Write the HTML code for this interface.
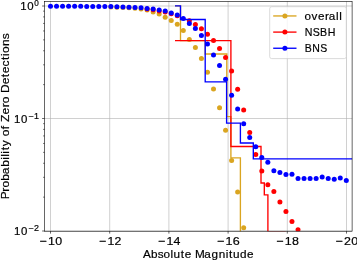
<!DOCTYPE html><html><head><meta charset="utf-8"><style>html,body{margin:0;padding:0;background:#fff;overflow:hidden;}svg{display:block;}</style></head><body><svg width="357" height="260" viewBox="0 0 357 260"><rect width="357" height="260" fill="#fff"/><defs><clipPath id="c"><rect x="44.50" y="1.40" width="307.60" height="229.80"/></clipPath></defs><g stroke="#b0b0b0" stroke-width="0.60"><line x1="50.50" y1="1.40" x2="50.50" y2="231.20"/><line x1="109.70" y1="1.40" x2="109.70" y2="231.20"/><line x1="168.90" y1="1.40" x2="168.90" y2="231.20"/><line x1="228.10" y1="1.40" x2="228.10" y2="231.20"/><line x1="287.30" y1="1.40" x2="287.30" y2="231.20"/><line x1="346.50" y1="1.40" x2="346.50" y2="231.20"/><line x1="44.50" y1="6.00" x2="352.10" y2="6.00"/><line x1="44.50" y1="118.50" x2="352.10" y2="118.50"/><line x1="44.50" y1="231.00" x2="352.10" y2="231.00"/></g><g clip-path="url(#c)"><polyline points="175.00,5.90 180.50,5.90 180.50,40.60 205.20,40.60 205.20,54.00 226.80,54.00 226.80,116.60 230.90,116.60 230.90,157.80 240.40,157.80 240.40,300.00" fill="none" stroke="#daa520" stroke-width="1.35" stroke-linejoin="miter" stroke-linecap="butt"/><circle cx="110.87" cy="7.00" r="2.50" fill="#daa520"/><circle cx="116.91" cy="7.20" r="2.50" fill="#daa520"/><circle cx="122.94" cy="7.50" r="2.50" fill="#daa520"/><circle cx="128.98" cy="7.70" r="2.50" fill="#daa520"/><circle cx="135.02" cy="8.20" r="2.50" fill="#daa520"/><circle cx="141.06" cy="9.10" r="2.50" fill="#daa520"/><circle cx="147.09" cy="10.10" r="2.50" fill="#daa520"/><circle cx="153.13" cy="11.90" r="2.50" fill="#daa520"/><circle cx="159.17" cy="13.90" r="2.50" fill="#daa520"/><circle cx="165.20" cy="17.20" r="2.50" fill="#daa520"/><circle cx="171.24" cy="20.60" r="2.50" fill="#daa520"/><circle cx="177.28" cy="24.30" r="2.50" fill="#daa520"/><circle cx="183.31" cy="30.60" r="2.50" fill="#daa520"/><circle cx="189.35" cy="39.40" r="2.50" fill="#daa520"/><circle cx="195.39" cy="47.50" r="2.50" fill="#daa520"/><circle cx="201.43" cy="58.40" r="2.50" fill="#daa520"/><circle cx="207.46" cy="72.30" r="2.50" fill="#daa520"/><circle cx="213.50" cy="89.00" r="2.50" fill="#daa520"/><circle cx="219.54" cy="107.80" r="2.50" fill="#daa520"/><circle cx="225.57" cy="130.20" r="2.50" fill="#daa520"/><circle cx="231.61" cy="160.40" r="2.50" fill="#daa520"/><circle cx="237.65" cy="192.00" r="2.50" fill="#daa520"/><circle cx="243.68" cy="227.70" r="2.50" fill="#daa520"/><circle cx="249.72" cy="240.00" r="2.50" fill="#daa520"/><circle cx="255.76" cy="240.00" r="2.50" fill="#daa520"/><circle cx="261.79" cy="240.00" r="2.50" fill="#daa520"/><circle cx="267.83" cy="240.00" r="2.50" fill="#daa520"/><circle cx="273.87" cy="240.00" r="2.50" fill="#daa520"/><circle cx="279.91" cy="240.00" r="2.50" fill="#daa520"/><circle cx="285.94" cy="240.00" r="2.50" fill="#daa520"/><circle cx="291.98" cy="240.00" r="2.50" fill="#daa520"/><circle cx="298.02" cy="240.00" r="2.50" fill="#daa520"/><circle cx="304.05" cy="240.00" r="2.50" fill="#daa520"/><circle cx="310.09" cy="240.00" r="2.50" fill="#daa520"/><circle cx="316.13" cy="240.00" r="2.50" fill="#daa520"/><circle cx="322.17" cy="240.00" r="2.50" fill="#daa520"/><circle cx="328.20" cy="240.00" r="2.50" fill="#daa520"/><circle cx="334.24" cy="240.00" r="2.50" fill="#daa520"/><circle cx="340.28" cy="240.00" r="2.50" fill="#daa520"/><circle cx="346.31" cy="240.00" r="2.50" fill="#daa520"/><polyline points="175.00,40.60 230.90,40.60 230.90,146.50 261.00,146.50 261.00,183.00 264.30,183.00 264.30,194.80 267.90,194.80 267.90,231.60 285.10,231.60 285.10,300.00" fill="none" stroke="#ff0000" stroke-width="1.35" stroke-linejoin="miter" stroke-linecap="butt"/><circle cx="147.09" cy="9.00" r="2.50" fill="#ff0000"/><circle cx="153.13" cy="9.80" r="2.50" fill="#ff0000"/><circle cx="159.17" cy="10.90" r="2.50" fill="#ff0000"/><circle cx="165.20" cy="12.10" r="2.50" fill="#ff0000"/><circle cx="171.24" cy="13.80" r="2.50" fill="#ff0000"/><circle cx="177.28" cy="15.80" r="2.50" fill="#ff0000"/><circle cx="189.35" cy="20.80" r="2.50" fill="#ff0000"/><circle cx="195.39" cy="24.60" r="2.50" fill="#ff0000"/><circle cx="201.43" cy="28.80" r="2.50" fill="#ff0000"/><circle cx="207.46" cy="34.30" r="2.50" fill="#ff0000"/><circle cx="213.50" cy="40.60" r="2.50" fill="#ff0000"/><circle cx="219.54" cy="48.40" r="2.50" fill="#ff0000"/><circle cx="225.57" cy="57.50" r="2.50" fill="#ff0000"/><circle cx="231.61" cy="71.00" r="2.50" fill="#ff0000"/><circle cx="237.65" cy="89.20" r="2.50" fill="#ff0000"/><circle cx="243.68" cy="110.00" r="2.50" fill="#ff0000"/><circle cx="249.72" cy="132.50" r="2.50" fill="#ff0000"/><circle cx="255.76" cy="154.50" r="2.50" fill="#ff0000"/><circle cx="261.79" cy="171.00" r="2.50" fill="#ff0000"/><circle cx="267.83" cy="184.70" r="2.50" fill="#ff0000"/><circle cx="273.87" cy="191.50" r="2.50" fill="#ff0000"/><circle cx="279.91" cy="202.10" r="2.50" fill="#ff0000"/><circle cx="285.94" cy="211.40" r="2.50" fill="#ff0000"/><circle cx="291.98" cy="221.50" r="2.50" fill="#ff0000"/><circle cx="298.02" cy="229.80" r="2.50" fill="#ff0000"/><circle cx="304.05" cy="240.00" r="2.50" fill="#ff0000"/><circle cx="310.09" cy="240.00" r="2.50" fill="#ff0000"/><circle cx="316.13" cy="240.00" r="2.50" fill="#ff0000"/><circle cx="322.17" cy="240.00" r="2.50" fill="#ff0000"/><circle cx="328.20" cy="240.00" r="2.50" fill="#ff0000"/><circle cx="334.24" cy="240.00" r="2.50" fill="#ff0000"/><circle cx="340.28" cy="240.00" r="2.50" fill="#ff0000"/><circle cx="346.31" cy="240.00" r="2.50" fill="#ff0000"/><polyline points="175.00,5.90 180.50,5.90 180.50,19.50 205.20,19.50 205.20,81.90 226.60,81.90 226.60,123.10 240.40,123.10 240.40,143.00 253.30,143.00 253.30,158.80 360.00,158.80" fill="none" stroke="#0000ff" stroke-width="1.35" stroke-linejoin="miter" stroke-linecap="butt"/><circle cx="50.50" cy="6.20" r="2.50" fill="#0000ff"/><circle cx="56.54" cy="6.20" r="2.50" fill="#0000ff"/><circle cx="62.57" cy="6.20" r="2.50" fill="#0000ff"/><circle cx="68.61" cy="6.20" r="2.50" fill="#0000ff"/><circle cx="74.65" cy="6.20" r="2.50" fill="#0000ff"/><circle cx="80.69" cy="6.20" r="2.50" fill="#0000ff"/><circle cx="86.72" cy="6.40" r="2.50" fill="#0000ff"/><circle cx="92.76" cy="6.40" r="2.50" fill="#0000ff"/><circle cx="98.80" cy="6.40" r="2.50" fill="#0000ff"/><circle cx="104.83" cy="6.40" r="2.50" fill="#0000ff"/><circle cx="110.87" cy="6.50" r="2.50" fill="#0000ff"/><circle cx="116.91" cy="6.70" r="2.50" fill="#0000ff"/><circle cx="122.94" cy="6.90" r="2.50" fill="#0000ff"/><circle cx="128.98" cy="7.30" r="2.50" fill="#0000ff"/><circle cx="135.02" cy="7.60" r="2.50" fill="#0000ff"/><circle cx="141.06" cy="7.80" r="2.50" fill="#0000ff"/><circle cx="147.09" cy="8.40" r="2.50" fill="#0000ff"/><circle cx="153.13" cy="9.00" r="2.50" fill="#0000ff"/><circle cx="159.17" cy="10.00" r="2.50" fill="#0000ff"/><circle cx="165.20" cy="11.10" r="2.50" fill="#0000ff"/><circle cx="171.24" cy="12.90" r="2.50" fill="#0000ff"/><circle cx="177.28" cy="14.90" r="2.50" fill="#0000ff"/><circle cx="183.31" cy="18.40" r="2.50" fill="#0000ff"/><circle cx="189.35" cy="23.50" r="2.50" fill="#0000ff"/><circle cx="195.39" cy="28.60" r="2.50" fill="#0000ff"/><circle cx="201.43" cy="35.60" r="2.50" fill="#0000ff"/><circle cx="207.46" cy="44.00" r="2.50" fill="#0000ff"/><circle cx="213.50" cy="55.00" r="2.50" fill="#0000ff"/><circle cx="219.54" cy="65.50" r="2.50" fill="#0000ff"/><circle cx="225.57" cy="79.20" r="2.50" fill="#0000ff"/><circle cx="231.61" cy="95.20" r="2.50" fill="#0000ff"/><circle cx="237.65" cy="108.90" r="2.50" fill="#0000ff"/><circle cx="243.68" cy="123.70" r="2.50" fill="#0000ff"/><circle cx="249.72" cy="137.40" r="2.50" fill="#0000ff"/><circle cx="255.76" cy="146.80" r="2.50" fill="#0000ff"/><circle cx="261.79" cy="157.40" r="2.50" fill="#0000ff"/><circle cx="267.83" cy="162.20" r="2.50" fill="#0000ff"/><circle cx="273.87" cy="170.80" r="2.50" fill="#0000ff"/><circle cx="279.91" cy="172.60" r="2.50" fill="#0000ff"/><circle cx="285.94" cy="174.60" r="2.50" fill="#0000ff"/><circle cx="291.98" cy="174.20" r="2.50" fill="#0000ff"/><circle cx="298.02" cy="178.40" r="2.50" fill="#0000ff"/><circle cx="304.05" cy="178.40" r="2.50" fill="#0000ff"/><circle cx="310.09" cy="178.40" r="2.50" fill="#0000ff"/><circle cx="316.13" cy="178.40" r="2.50" fill="#0000ff"/><circle cx="322.17" cy="176.90" r="2.50" fill="#0000ff"/><circle cx="328.20" cy="178.40" r="2.50" fill="#0000ff"/><circle cx="334.24" cy="179.30" r="2.50" fill="#0000ff"/><circle cx="340.28" cy="178.00" r="2.50" fill="#0000ff"/><circle cx="346.31" cy="180.60" r="2.50" fill="#0000ff"/></g><rect x="44.50" y="1.40" width="307.60" height="229.80" fill="none" stroke="#000" stroke-width="0.60"/><g stroke="#000" stroke-width="0.60"><line x1="50.50" y1="231.20" x2="50.50" y2="233.60"/><line x1="109.70" y1="231.20" x2="109.70" y2="233.60"/><line x1="168.90" y1="231.20" x2="168.90" y2="233.60"/><line x1="228.10" y1="231.20" x2="228.10" y2="233.60"/><line x1="287.30" y1="231.20" x2="287.30" y2="233.60"/><line x1="346.50" y1="231.20" x2="346.50" y2="233.60"/><line x1="42.10" y1="6.00" x2="44.50" y2="6.00"/><line x1="42.10" y1="118.50" x2="44.50" y2="118.50"/><line x1="42.10" y1="231.00" x2="44.50" y2="231.00"/><line x1="43.15" y1="197.13" x2="44.50" y2="197.13"/><line x1="43.15" y1="177.32" x2="44.50" y2="177.32"/><line x1="43.15" y1="163.27" x2="44.50" y2="163.27"/><line x1="43.15" y1="152.37" x2="44.50" y2="152.37"/><line x1="43.15" y1="143.46" x2="44.50" y2="143.46"/><line x1="43.15" y1="135.93" x2="44.50" y2="135.93"/><line x1="43.15" y1="129.40" x2="44.50" y2="129.40"/><line x1="43.15" y1="123.65" x2="44.50" y2="123.65"/><line x1="43.15" y1="84.63" x2="44.50" y2="84.63"/><line x1="43.15" y1="64.82" x2="44.50" y2="64.82"/><line x1="43.15" y1="50.77" x2="44.50" y2="50.77"/><line x1="43.15" y1="39.87" x2="44.50" y2="39.87"/><line x1="43.15" y1="30.96" x2="44.50" y2="30.96"/><line x1="43.15" y1="23.43" x2="44.50" y2="23.43"/><line x1="43.15" y1="16.90" x2="44.50" y2="16.90"/><line x1="43.15" y1="11.15" x2="44.50" y2="11.15"/></g><rect x="269.7" y="6.7" width="76.6" height="51.9" rx="2" ry="2" fill="#fff" fill-opacity="0.8" stroke="#cccccc" stroke-width="0.7"/><line x1="273.2" y1="15.95" x2="296.5" y2="15.95" stroke="#daa520" stroke-width="1.35"/><circle cx="284.9" cy="15.95" r="2.50" fill="#daa520"/><line x1="273.2" y1="32.10" x2="296.5" y2="32.10" stroke="#ff0000" stroke-width="1.35"/><circle cx="284.9" cy="32.10" r="2.50" fill="#ff0000"/><line x1="273.2" y1="48.25" x2="296.5" y2="48.25" stroke="#0000ff" stroke-width="1.35"/><circle cx="284.9" cy="48.25" r="2.50" fill="#0000ff"/><g font-family="&quot;Liberation Sans&quot;, sans-serif" fill="#000" stroke="#000" stroke-width="0.2" style="filter:grayscale(1)"><text transform="translate(38.80,244.60) scale(1.0699,1)" x="0.94 8.67 15.32" y="0" font-size="11.60">−10</text><text transform="translate(98.19,244.60) scale(1.0589,1)" x="0.99 8.79 15.37" y="0" font-size="11.60">−12</text><text transform="translate(157.14,244.60) scale(1.0688,1)" x="0.95 8.68 15.34" y="0" font-size="11.60">−14</text><text transform="translate(216.38,244.60) scale(1.0824,1)" x="0.89 8.53 15.10" y="0" font-size="11.60">−16</text><text transform="translate(275.61,244.60) scale(1.0740,1)" x="0.93 8.62 15.25" y="0" font-size="11.60">−18</text><text transform="translate(334.80,244.60) scale(1.0708,1)" x="0.94 8.59 15.30" y="0" font-size="11.60">−20</text><text transform="translate(19.90,9.90) scale(0.9845,1)" x="0.29 7.50" y="0" font-size="11.60">10</text><text transform="translate(33.98,5.70) scale(0.9499,1)" x="0.20" y="0" font-size="8.60">0</text><text transform="translate(13.60,123.00) scale(0.9845,1)" x="0.29 7.50" y="0" font-size="11.60">10</text><text transform="translate(27.69,118.80) scale(1.0418,1)" x="0.60 6.16" y="0" font-size="8.60">−1</text><text transform="translate(13.66,235.20) scale(0.9845,1)" x="0.29 7.50" y="0" font-size="11.60">10</text><text transform="translate(27.75,231.00) scale(1.0423,1)" x="0.60 6.10" y="0" font-size="8.60">−2</text><text transform="translate(143.11,258.00) scale(1.0131,1)" x="-0.13 7.78 14.44 20.22 27.02 30.04 37.25 41.19 47.88 51.12 60.37 67.53 74.55 81.45 84.76 88.75 95.64 102.56" y="0" font-size="11.60">Absolute Magnitude</text><text transform="translate(8.90,198.89) rotate(-90) scale(1.0310,1)" x="-0.46 6.95 10.95 17.70 23.93 31.10 37.88 40.85 43.84 47.08 51.10 57.28 60.66 67.58 71.04 74.49 81.81 88.79 92.79 99.40 102.67 111.08 118.05 121.90 128.32 134.77 138.72 141.56 148.27 154.85" y="0" font-size="11.60">Probability of Zero Detections</text><text transform="translate(304.39,19.80) scale(1.0061,1)" x="0.14 7.09 13.42 20.55 24.27 31.52 34.57" y="0" font-size="11.60">overall</text><text transform="translate(304.41,36.10) scale(0.9168,1)" x="0.32 9.06 16.96 25.33" y="0" font-size="11.60">NSBH</text><text transform="translate(304.41,52.30) scale(0.9059,1)" x="0.32 8.76 17.60" y="0" font-size="11.60">BNS</text></g></svg></body></html>
